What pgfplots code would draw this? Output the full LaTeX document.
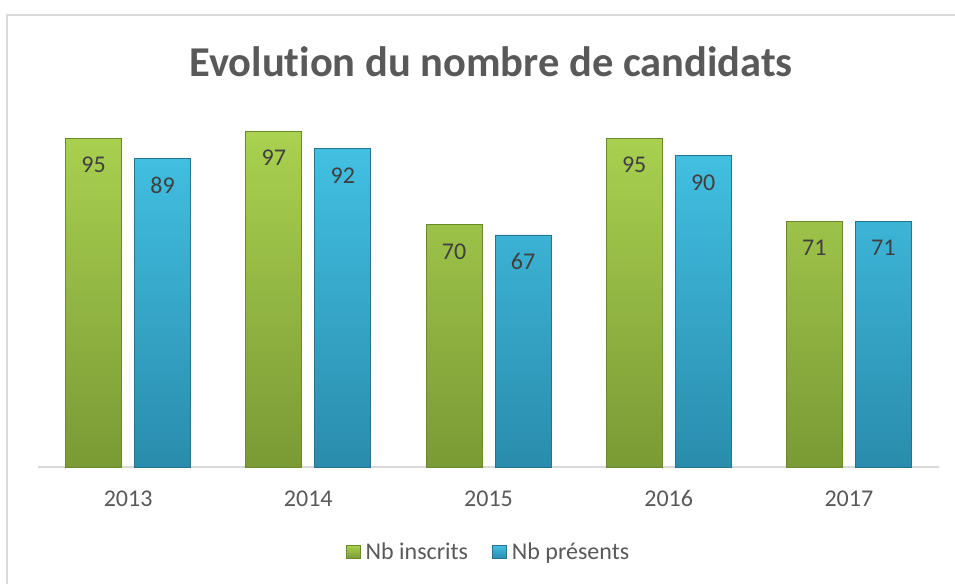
\documentclass[border=0pt]{standalone}
\usepackage{fontspec}
\setmainfont{Carlito}[Ligatures=NoCommon]
\usepackage{pgfplots}
\pgfplotsset{compat=1.18}
\definecolor{txt}{HTML}{595959}
\definecolor{lbl}{HTML}{404040}
\definecolor{bordergray}{HTML}{D9D9D9}
\definecolor{gtop}{HTML}{AAD150}
\definecolor{gbot}{HTML}{7A9A35}
\definecolor{gedge}{HTML}{6A8A2A}
\definecolor{btop}{HTML}{42C0E2}
\definecolor{bbot}{HTML}{2A8CAD}
\definecolor{bedge}{HTML}{24738F}
\begin{document}
\begin{tikzpicture}[x=1pt,y=1pt]
\path[use as bounding box, fill=white] (0,0) rectangle (955,584);
\draw[bordergray, line width=2pt] (7,0) -- (7,569) -- (955,569);
\node[font=\fontsize{42.5}{42.5}\selectfont\bfseries, text=txt, anchor=base] at (491,507) {Evolution du nombre de candidats};
\begin{axis}[
  at={(38pt,117pt)}, anchor=south west,
  scale only axis, width=901pt, height=346.3pt,
  xmin=-0.5, xmax=4.5, ymin=0, ymax=100,
  ybar, bar width=56pt,
  hide y axis,
  axis x line*=bottom,
  x axis line style={draw=bordergray, line width=1.5pt},
  xtick={0,1,2,3,4},
  xticklabels={2013,2014,2015,2016,2017},
  major tick length=0pt,
  xticklabel style={font=\fontsize{24}{24}\selectfont, text=txt, yshift=-20pt},
  clip=false,
  /pgf/number format/assume math mode=true,
  nodes near coords,
  every node near coord/.append style={font=\fontsize{24}{24}\selectfont, text=lbl, anchor=center, yshift=-27pt},
  legend columns=2,
  legend style={at={(0.5,-0.2455)}, anchor=center, draw=none, fill=none,
    font=\fontsize{24}{24}\selectfont, text=txt,
    /tikz/every even column/.append style={column sep=22pt}},
  legend image code/.code={\path[#1] (0pt,-6.5pt) rectangle (14pt,6.5pt); \path (17pt,0pt);},
]
\addplot[bar shift=-34.5pt, top color=gtop, bottom color=gbot, draw=gedge, line width=0.8pt]
  coordinates {(0,95) (1,97) (2,70) (3,95) (4,71)};
\addplot[bar shift=34.5pt, top color=btop, bottom color=bbot, draw=bedge, line width=0.8pt]
  coordinates {(0,89) (1,92) (2,67) (3,90) (4,71)};
\legend{Nb inscrits, Nb présents}
\end{axis}
\end{tikzpicture}
\end{document}
